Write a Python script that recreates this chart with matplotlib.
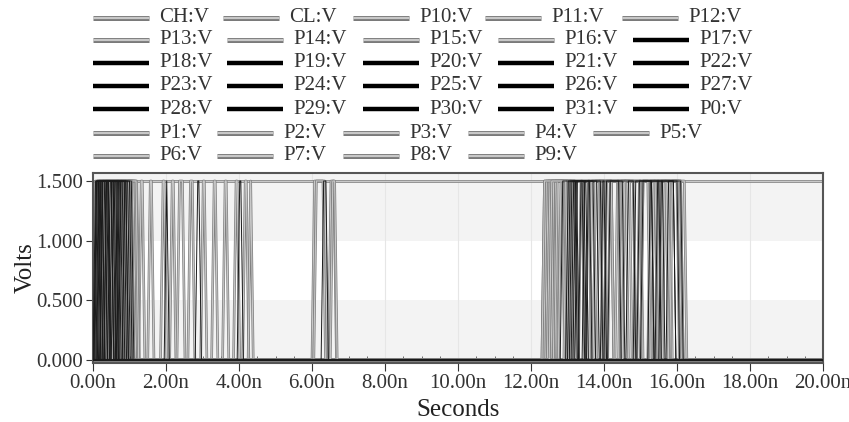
import numpy as np
import matplotlib
matplotlib.use("Agg")
import matplotlib.pyplot as plt
from matplotlib.lines import Line2D
import matplotlib.patheffects as pe

plt.rcParams['font.family'] = ['Liberation Serif', 'DejaVu Serif']

# ---- data: transition times (ns) for each node; each signal toggles at the listed times
V_HIGH = 1.5
RISE = 0.07
x_ticks = [0, 2, 4, 6, 8, 10, 12, 14, 16, 18, 20]
x_tick_labels = ["0.00n", "2.00n", "4.00n", "6.00n", "8.00n", "10.00n",
                 "12.00n", "14.00n", "16.00n", "18.00n", "20.00n"]
y_ticks = [0.0, 0.5, 1.0, 1.5]
y_tick_labels = ["0.000", "0.500", "1.000", "1.500"]

gray_names = ["CH", "CL", "P1", "P2", "P3", "P4", "P5", "P6", "P7", "P8", "P9",
              "P10", "P11", "P12", "P13", "P14", "P15", "P16"]
black_names = ["P17", "P18", "P19", "P20", "P21", "P22", "P23", "P24", "P25",
               "P26", "P27", "P28", "P29", "P30", "P31", "P0"]

start_high = {"CH": True}

edges = {
    "CH": [],
    "CL": [],
    "P1": [0.05, 0.4, 1.25, 1.35, 12.3, 12.5, 13.0, 13.6],
    "P2": [0.1, 0.6, 1.5, 1.6, 12.4, 12.7, 14.0, 14.6],
    "P3": [0.2, 0.8, 1.85, 1.95, 12.5, 12.9, 15.0, 15.5],
    "P4": [0.3, 1.0, 2.1, 2.2, 12.6, 13.2, 15.6, 16.1],
    "P5": [0.45, 1.1, 2.3, 2.45, 12.35, 12.6, 13.8, 14.2],
    "P6": [0.0, 0.3, 2.6, 2.72, 12.45, 13.0, 14.4, 15.0],
    "P7": [0.55, 0.9, 2.95, 3.05, 12.55, 12.85, 15.3, 15.8],
    "P8": [0.7, 1.15, 3.25, 3.35, 13.3, 13.9, 15.8, 16.2],
    "P9": [0.15, 0.5, 3.55, 3.65, 12.65, 13.1, 14.1, 14.7],
    "P10": [0.8, 1.2, 3.85, 3.95, 13.5, 14.0, 14.9, 15.4],
    "P11": [0.25, 0.7, 4.1, 4.2, 12.75, 13.2, 15.5, 16.05],
    "P12": [0.9, 1.18, 4.25, 4.32, 13.6, 14.2, 15.2, 16.1],
    "P13": [0.05, 0.2, 6.0, 6.3, 12.3, 12.55, 14.3, 14.8],
    "P14": [0.35, 0.85, 6.05, 6.35, 12.9, 13.4, 15.0, 15.7],
    "P15": [0.6, 1.05, 6.45, 6.6, 13.7, 14.4, 15.4, 16.0],
    "P16": [0.1, 0.45, 6.5, 6.62, 12.5, 12.95, 14.5, 15.2],
    "P17": [0.02, 0.25, 0.45, 0.8, 12.95, 13.2, 14.9, 15.3],
    "P18": [0.1, 0.5, 0.7, 0.9, 13.1, 13.5, 15.5, 15.9],
    "P19": [0.0, 0.15, 0.3, 0.62, 13.3, 13.8],
    "P20": [0.2, 0.4, 0.65, 1.0, 1.95, 2.02, 13.0, 13.4, 15.7, 16.1],
    "P21": [0.05, 0.55, 13.9, 14.4],
    "P22": [0.3, 0.75, 2.8, 2.9, 13.2, 13.7],
    "P23": [0.12, 0.42, 3.95, 4.05, 14.1, 14.8],
    "P24": [0.6, 0.85, 6.25, 6.38, 13.5, 14.0, 15.0, 15.6],
    "P25": [0.08, 0.33, 13.05, 13.6],
    "P26": [0.4, 0.7, 14.6, 15.3],
    "P27": [0.18, 0.58, 13.4, 13.9],
    "P28": [0.25, 0.5, 0.8, 1.05, 15.4, 16.0],
    "P29": [0.03, 0.2, 13.15, 13.45, 14.0, 14.5],
    "P30": [0.35, 0.9, 15.2, 15.5],
    "P31": [0.15, 0.65, 12.8, 13.25],
    "P0": [0.5, 0.95, 14.8, 15.9],
}

legend_rows = [
    ["CH", "CL", "P10", "P11", "P12"],
    ["P13", "P14", "P15", "P16", "P17"],
    ["P18", "P19", "P20", "P21", "P22"],
    ["P23", "P24", "P25", "P26", "P27"],
    ["P28", "P29", "P30", "P31", "P0"],
    ["P1", "P2", "P3", "P4", "P5"],
    ["P6", "P7", "P8", "P9"],
]


def waveform(ev, high0):
    t = [0.0]
    v = [V_HIGH if high0 else 0.0]
    level = high0
    for te in ev:
        t.append(te)
        v.append(V_HIGH if level else 0.0)
        level = not level
        t.append(te + RISE)
        v.append(V_HIGH if level else 0.0)
    t.append(20.0)
    v.append(V_HIGH if level else 0.0)
    return np.array(t), np.array(v)


W, H = 849, 422
fig = plt.figure(figsize=(W / 100, H / 100), dpi=100)
ax = fig.add_axes([93 / W, 1 - 363 / H, 730 / W, 190 / H])
ax.set_xlim(0, 20)
ax.set_ylim(-0.025, 1.567)

# background bands
ax.axhspan(1.0, 1.567, color="#f3f3f3", zorder=0, lw=0)
ax.axhspan(-0.025, 0.5, color="#f3f3f3", zorder=0, lw=0)
for xv in x_ticks[1:-1]:
    ax.axvline(xv, color="#e6e6e6", lw=0.8, zorder=0.5)

gray_fx = [pe.Stroke(linewidth=1.9, foreground="#808080"), pe.Normal()]
for n in gray_names:
    t, v = waveform(edges[n], start_high.get(n, False))
    ax.plot(t, v, color="#c8c8c8", lw=0.8, path_effects=gray_fx, zorder=2)
for n in black_names:
    t, v = waveform(edges[n], start_high.get(n, False))
    ax.plot(t, v, color="#1a1a1a", lw=0.7, zorder=3)

ax.set_xticks(x_ticks)
ax.set_xticklabels(x_tick_labels)
ax.set_yticks(y_ticks)
ax.set_yticklabels(y_tick_labels)
ax.set_xticks(np.arange(0.5, 20, 0.5), minor=True)
ax.tick_params(axis="x", which="major", direction="out", length=6, labelsize=15,
               colors="#333333", pad=2)
ax.tick_params(axis="x", which="minor", direction="in", length=5, color="#555555")
ax.tick_params(axis="y", which="major", direction="out", length=5, labelsize=15,
               colors="#333333", pad=2)
for s in ax.spines.values():
    s.set_color("#555555")
    s.set_linewidth(1.5)
ax.set_xlabel("Seconds", fontsize=18, color="#222222", labelpad=4)
ax.set_ylabel("Volts", fontsize=18, color="#222222", labelpad=0)

# legend (placed manually in pixel coordinates)
row_y = [18, 40, 63, 86, 109, 133, 156]
cols_row1 = [93, 223, 353, 485, 622]
cols_mid = [93, 227, 363, 498, 633]
cols_low = [93, 217, 343, 468, 593]
line_len = 56
for r, names in enumerate(legend_rows):
    cols = cols_row1 if r == 0 else (cols_mid if r < 5 else cols_low)
    yy = 1 - row_y[r] / H
    for c, n in enumerate(names):
        x0 = cols[c]
        xs = [x0 / W, (x0 + line_len) / W]
        if n in black_names:
            fig.add_artist(Line2D(xs, [yy, yy], color="#000000", lw=3.2,
                                  solid_capstyle="butt"))
        else:
            fig.add_artist(Line2D(xs, [yy, yy], color="#c8c8c8", lw=1.6,
                                  solid_capstyle="butt",
                                  path_effects=[pe.Stroke(linewidth=3.6, foreground="#7a7a7a"),
                                                pe.Normal()]))
        fig.text((x0 + line_len + 10) / W, yy, n + ":V", fontsize=15,
                 color="#333333", va="center", ha="left")

fig.savefig("out.png", dpi=100)
